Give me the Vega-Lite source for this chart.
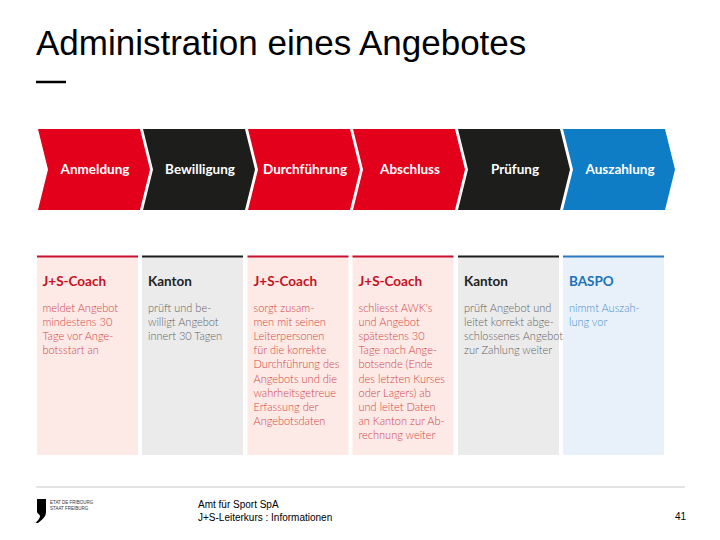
{
  "$schema": "https://vega.github.io/schema/vega-lite/v6.json",
  "width": 720,
  "height": 540,
  "autosize": {"type": "fit", "contains": "padding"},
  "padding": 0,
  "background": "white",
  "config": {"view": {"stroke": null}},
  "datasets": {
    "chev": [
      {"step": "Anmeldung", "role": "J+S-Coach", "y": 129, "xl": 38, "xr": 140},
      {"step": "Anmeldung", "role": "J+S-Coach", "y": 169.5, "xl": 48, "xr": 150},
      {"step": "Anmeldung", "role": "J+S-Coach", "y": 210, "xl": 38, "xr": 140},
      {"step": "Bewilligung", "role": "Kanton", "y": 129, "xl": 143, "xr": 245},
      {"step": "Bewilligung", "role": "Kanton", "y": 169.5, "xl": 153, "xr": 255},
      {"step": "Bewilligung", "role": "Kanton", "y": 210, "xl": 143, "xr": 245},
      {"step": "Durchführung", "role": "J+S-Coach", "y": 129, "xl": 248, "xr": 350},
      {"step": "Durchführung", "role": "J+S-Coach", "y": 169.5, "xl": 258, "xr": 360},
      {"step": "Durchführung", "role": "J+S-Coach", "y": 210, "xl": 248, "xr": 350},
      {"step": "Abschluss", "role": "J+S-Coach", "y": 129, "xl": 353, "xr": 455},
      {"step": "Abschluss", "role": "J+S-Coach", "y": 169.5, "xl": 363, "xr": 465},
      {"step": "Abschluss", "role": "J+S-Coach", "y": 210, "xl": 353, "xr": 455},
      {"step": "Prüfung", "role": "Kanton", "y": 129, "xl": 458, "xr": 560},
      {"step": "Prüfung", "role": "Kanton", "y": 169.5, "xl": 468, "xr": 570},
      {"step": "Prüfung", "role": "Kanton", "y": 210, "xl": 458, "xr": 560},
      {"step": "Auszahlung", "role": "BASPO", "y": 129, "xl": 563, "xr": 665},
      {"step": "Auszahlung", "role": "BASPO", "y": 169.5, "xl": 573, "xr": 675},
      {"step": "Auszahlung", "role": "BASPO", "y": 210, "xl": 563, "xr": 665}
    ],
    "steps": [
      {"step": "Anmeldung", "role": "J+S-Coach", "cx": 95, "px": 37, "px2": 138, "tx": 42.5, "body": "meldet Angebot\nmindestens 30\nTage vor Ange-\nbotsstart an"},
      {"step": "Bewilligung", "role": "Kanton", "cx": 200, "px": 142, "px2": 243, "tx": 148, "body": "prüft und be-\nwilligt Angebot\ninnert 30 Tagen"},
      {"step": "Durchführung", "role": "J+S-Coach", "cx": 305, "px": 247.5, "px2": 348.5, "tx": 253.5, "body": "sorgt zusam-\nmen mit seinen\nLeiterpersonen\nfür die korrekte\nDurchführung des\nAngebots und die\nwahrheitsgetreue\nErfassung der\nAngebotsdaten"},
      {"step": "Abschluss", "role": "J+S-Coach", "cx": 410, "px": 352.5, "px2": 453.5, "tx": 358.5, "body": "schliesst AWK's\nund Angebot\nspätestens 30\nTage nach Ange-\nbotsende (Ende\ndes letzten Kurses\noder Lagers) ab\nund leitet Daten\nan Kanton zur Ab-\nrechnung weiter"},
      {"step": "Prüfung", "role": "Kanton", "cx": 515, "px": 458, "px2": 559, "tx": 464, "body": "prüft Angebot und\nleitet korrekt abge-\nschlossenes Angebot\nzur Zahlung weiter"},
      {"step": "Auszahlung", "role": "BASPO", "cx": 620, "px": 563, "px2": 664, "tx": 569, "body": "nimmt Auszah-\nlung vor"}
    ],
    "logo": [
      {"y": 499, "xl": 37, "xr": 46},
      {"y": 512, "xl": 37, "xr": 46},
      {"y": 516, "xl": 40, "xr": 45},
      {"y": 523, "xl": 35.5, "xr": 38}
    ]
  },
  "layer": [
    {
      "data": {"values": [{"t": "Administration eines Angebotes", "x": 36, "y": 55}]},
      "mark": {"type": "text", "align": "left", "baseline": "alphabetic", "font": "Liberation Sans", "fontSize": 35, "color": "#000000"},
      "encoding": {
        "x": {"field": "x", "type": "quantitative", "scale": {"domain": [0, 720]}, "axis": null},
        "y": {"field": "y", "type": "quantitative", "scale": {"domain": [0, 540], "reverse": true}, "axis": null},
        "text": {"field": "t"}
      }
    },
    {
      "data": {"values": [{"x": 36, "x2": 66, "y": 82}]},
      "mark": {"type": "rule", "strokeWidth": 2.5, "color": "#000000"},
      "encoding": {
        "x": {"field": "x", "type": "quantitative", "scale": {"domain": [0, 720]}, "axis": null},
        "x2": {"field": "x2"},
        "y": {"field": "y", "type": "quantitative", "scale": {"domain": [0, 540], "reverse": true}, "axis": null}
      }
    },
    {
      "data": {"name": "chev"},
      "mark": {"type": "area", "orient": "horizontal", "interpolate": "linear"},
      "encoding": {
        "y": {"field": "y", "type": "quantitative", "scale": {"domain": [0, 540], "reverse": true}, "axis": null},
        "x": {"field": "xl", "type": "quantitative", "scale": {"domain": [0, 720]}, "axis": null},
        "x2": {"field": "xr"},
        "detail": {"field": "step"},
        "color": {"field": "role", "type": "nominal", "legend": null, "scale": {"domain": ["J+S-Coach", "Kanton", "BASPO"], "range": ["#e2001a", "#1d1d1b", "#0f7dc6"]}}
      }
    },
    {
      "data": {"name": "steps"},
      "mark": {"type": "text", "align": "center", "baseline": "middle", "font": "Lato", "fontWeight": "bold", "fontSize": 13.5, "color": "#ffffff"},
      "encoding": {
        "x": {"field": "cx", "type": "quantitative", "scale": {"domain": [0, 720]}, "axis": null},
        "y": {"datum": 170, "type": "quantitative", "scale": {"domain": [0, 540], "reverse": true}, "axis": null},
        "text": {"field": "step"}
      }
    },
    {
      "data": {"name": "steps"},
      "mark": {"type": "rect"},
      "encoding": {
        "x": {"field": "px", "type": "quantitative", "scale": {"domain": [0, 720]}, "axis": null},
        "x2": {"field": "px2"},
        "y": {"datum": 256, "type": "quantitative", "scale": {"domain": [0, 540], "reverse": true}, "axis": null},
        "y2": {"datum": 455},
        "fill": {"field": "role", "type": "nominal", "legend": null, "scale": {"domain": ["J+S-Coach", "Kanton", "BASPO"], "range": ["#fde9e6", "#ebebeb", "#e8f1fa"]}}
      }
    },
    {
      "data": {"name": "steps"},
      "mark": {"type": "rule", "strokeWidth": 2},
      "encoding": {
        "x": {"field": "px", "type": "quantitative", "scale": {"domain": [0, 720]}, "axis": null},
        "x2": {"field": "px2"},
        "y": {"datum": 256.5, "type": "quantitative", "scale": {"domain": [0, 540], "reverse": true}, "axis": null},
        "stroke": {"field": "role", "type": "nominal", "legend": null, "scale": {"domain": ["J+S-Coach", "Kanton", "BASPO"], "range": ["#c8102e", "#1d1d1b", "#2a7abf"]}}
      }
    },
    {
      "data": {"name": "steps"},
      "mark": {"type": "text", "align": "left", "baseline": "middle", "font": "Lato", "fontWeight": "bold", "fontSize": 13.5},
      "encoding": {
        "x": {"field": "tx", "type": "quantitative", "scale": {"domain": [0, 720]}, "axis": null},
        "y": {"datum": 281.5, "type": "quantitative", "scale": {"domain": [0, 540], "reverse": true}, "axis": null},
        "text": {"field": "role"},
        "color": {"field": "role", "type": "nominal", "legend": null, "scale": {"domain": ["J+S-Coach", "Kanton", "BASPO"], "range": ["#c4121f", "#222222", "#1b72b8"]}}
      }
    },
    {
      "data": {"name": "steps"},
      "mark": {"type": "text", "align": "left", "baseline": "top", "font": "Lato", "fontWeight": 300, "fontSize": 11, "lineBreak": "\n", "lineHeight": 14.2},
      "encoding": {
        "x": {"field": "tx", "type": "quantitative", "scale": {"domain": [0, 720]}, "axis": null},
        "y": {"datum": 302.5, "type": "quantitative", "scale": {"domain": [0, 540], "reverse": true}, "axis": null},
        "text": {"field": "body"},
        "color": {"field": "role", "type": "nominal", "legend": null, "scale": {"domain": ["J+S-Coach", "Kanton", "BASPO"], "range": ["#d24545", "#636363", "#4a8fcb"]}}
      }
    },
    {
      "data": {"values": [{"x": 36, "x2": 685, "y": 487}]},
      "mark": {"type": "rule", "strokeWidth": 1, "color": "#c8c8c8"},
      "encoding": {
        "x": {"field": "x", "type": "quantitative", "scale": {"domain": [0, 720]}, "axis": null},
        "x2": {"field": "x2"},
        "y": {"field": "y", "type": "quantitative", "scale": {"domain": [0, 540], "reverse": true}, "axis": null}
      }
    },
    {
      "data": {"name": "logo"},
      "mark": {"type": "area", "orient": "horizontal", "color": "#000000", "interpolate": "monotone"},
      "encoding": {
        "y": {"field": "y", "type": "quantitative", "scale": {"domain": [0, 540], "reverse": true}, "axis": null},
        "x": {"field": "xl", "type": "quantitative", "scale": {"domain": [0, 720]}, "axis": null},
        "x2": {"field": "xr"}
      }
    },
    {
      "data": {"values": [
        {"t": "ETAT DE FRIBOURG", "x": 50, "y": 503},
        {"t": "STAAT FREIBURG", "x": 50, "y": 509}
      ]},
      "mark": {"type": "text", "align": "left", "baseline": "middle", "font": "Liberation Sans", "fontSize": 4.5, "color": "#333333"},
      "encoding": {
        "x": {"field": "x", "type": "quantitative", "scale": {"domain": [0, 720]}, "axis": null},
        "y": {"field": "y", "type": "quantitative", "scale": {"domain": [0, 540], "reverse": true}, "axis": null},
        "text": {"field": "t"}
      }
    },
    {
      "data": {"values": [
        {"t": "Amt für Sport SpA", "x": 198, "y": 505},
        {"t": "J+S-Leiterkurs : Informationen", "x": 198, "y": 518}
      ]},
      "mark": {"type": "text", "align": "left", "baseline": "middle", "font": "Liberation Sans", "fontSize": 10, "color": "#000000"},
      "encoding": {
        "x": {"field": "x", "type": "quantitative", "scale": {"domain": [0, 720]}, "axis": null},
        "y": {"field": "y", "type": "quantitative", "scale": {"domain": [0, 540], "reverse": true}, "axis": null},
        "text": {"field": "t"}
      }
    },
    {
      "data": {"values": [{"t": "41", "x": 686, "y": 517}]},
      "mark": {"type": "text", "align": "right", "baseline": "middle", "font": "Liberation Sans", "fontSize": 10, "color": "#000000"},
      "encoding": {
        "x": {"field": "x", "type": "quantitative", "scale": {"domain": [0, 720]}, "axis": null},
        "y": {"field": "y", "type": "quantitative", "scale": {"domain": [0, 540], "reverse": true}, "axis": null},
        "text": {"field": "t"}
      }
    }
  ],
  "resolve": {"scale": {"color": "independent", "fill": "independent", "stroke": "independent"}}
}
